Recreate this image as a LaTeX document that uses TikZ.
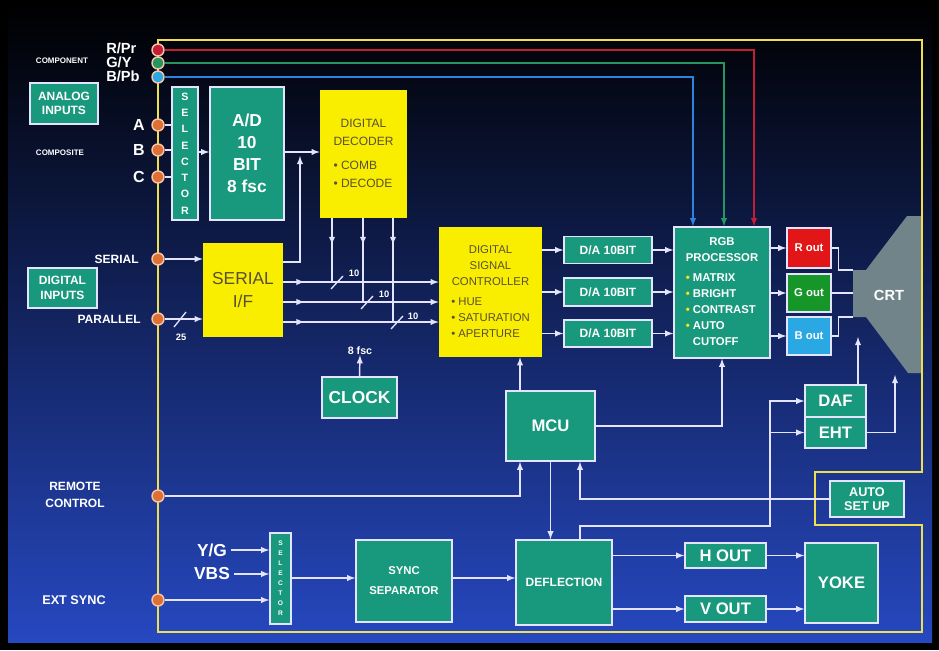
\documentclass[tikz,border=0pt]{standalone}
\usepackage{fontspec}
\setmainfont{Liberation Sans}
\usepackage{tikz}
\usetikzlibrary{arrows,positioning,calc,decorations.markings}
\definecolor{tealfill}{RGB}{24,152,124}
\definecolor{yellowfill}{RGB}{250,238,0}
\definecolor{ytext}{RGB}{88,80,50}
\definecolor{wirecol}{RGB}{228,228,255}
\definecolor{buscol}{RGB}{238,222,80}
\definecolor{jackcol}{RGB}{222,112,52}
\definecolor{jackrim}{RGB}{246,196,170}
\definecolor{redline}{RGB}{196,30,52}
\definecolor{greenline}{RGB}{36,150,96}
\definecolor{blueline}{RGB}{44,132,222}
\definecolor{redout}{RGB}{226,22,22}
\definecolor{greenout}{RGB}{22,150,40}
\definecolor{blueout}{RGB}{42,168,228}
\definecolor{crtgrey}{RGB}{112,132,138}
\definecolor{bgmid}{RGB}{8,12,112}
\definecolor{bgbot}{RGB}{38,72,192}
\newcommand{\fsz}[2]{\fontsize{#1}{#2}\selectfont}
\newcommand{\boxtitle}[1]{\multicolumn{1}{@{}c@{}}{#1}}

\begin{document}
\begin{tikzpicture}[x=0.75pt,y=-0.75pt,
  every node/.style={align=center,inner sep=0pt,text=white},
  wh/.style 2 args={minimum width=#1*0.75pt,minimum height=#2*0.75pt},
  tbox/.style={draw=wirecol,line width=1.1pt,fill=tealfill,font=\bfseries\fsz{9}{11}},
  ybox/.style={fill=yellowfill,text=ytext,font=\fsz{9}{13.5}},
  jack/.style={circle,draw=jackrim,line width=1.1pt,fill=jackcol,minimum size=12*0.75pt},
  lbl/.style={font=\bfseries\fsz{9}{12.5}},
  wire/.style={draw=wirecol,line width=1.1pt},
  arrow/.style={wire,-latex},
  bus/.style={draw=buscol,line width=1.9pt},
  slashmark/.style={wire,line width=1pt},
  midarrow/.style={postaction={decorate},decoration={markings,mark=at position #1 with {\arrow{latex}}}}]
  \useasboundingbox (0,0) rectangle (939,650);
  % background
  \fill[black] (0,0) rectangle (939,650);
  \shade[top color=black,middle color=bgmid,bottom color=bgbot] (8,4) rectangle (932,642);

  % crt
  \fill[crtgrey] (853,270) -- (866,270) -- (907,216) -- (922,216) -- (922,373) -- (908,373) -- (866,317) -- (853,317) -- cycle;
  \node[font=\bfseries\fsz{11}{12}] (crt) at (889,295) {CRT};
  \coordinate (crtr) at (853,270);
  \coordinate (crtb) at (853,317);
  \coordinate (crtbot) at (895,375);
  \coordinate (crtneck) at (858,337);

  % yellow bus
  \draw[bus] (158,40) -- (922,40) -- (922,472) -- (815,472) -- (815,525) -- (922,525) -- (922,632) -- (158,632) -- cycle;

  % inputs
  \node[jack,fill=redline] (rpr) at (158,50) {};
  \node[jack,fill=greenline] (gy) at (158,63) {};
  \node[jack,fill=blueout] (bpb) at (158,77) {};
  \node[jack] (ja) at (158,125) {};
  \node[jack] (jb) at (158,150) {};
  \node[jack] (jc) at (158,177) {};
  \node[jack] (jser) at (158,259) {};
  \node[jack] (jpar) at (158,319) {};
  \node[jack] (jrem) at (158,496) {};
  \node[jack] (jext) at (158,600) {};
  \node[anchor=west,font=\bfseries\fsz{11}{12}] (lrpr) at (106,48) {R/Pr};
  \node[anchor=west,font=\bfseries\fsz{11}{12}] (lgy) at (106,62) {G/Y};
  \node[anchor=west,font=\bfseries\fsz{11}{12}] (lbpb) at (106,76) {B/Pb};
  \node[font=\bfseries\fsz{6}{7}] (lcomp) at (62,61) {COMPONENT};
  \node[font=\bfseries\fsz{6}{7}] (lcvbs) at (60,153) {COMPOSITE};
  \node[font=\bfseries\fsz{12}{13}] (la) at (139,125) {A};
  \node[font=\bfseries\fsz{12}{13}] (lb) at (139,150) {B};
  \node[font=\bfseries\fsz{12}{13}] (lc) at (139,177) {C};
  \node[lbl,anchor=east] (lser) at (139,259) {SERIAL};
  \node[lbl,anchor=east] (lpar) at (141,319) {PARALLEL};
  \node[lbl] (lrem) at (75,495) {REMOTE\\CONTROL};
  \node[lbl,font=\bfseries\fsz{9.5}{12}] (lext) at (74,600) {EXT SYNC};
  \node[font=\bfseries\fsz{13}{14}] (lyg) at (212,550) {Y/G};
  \node[font=\bfseries\fsz{13}{14}] (lvbs) at (212,574) {VBS};
  \node[tbox,wh={68}{41}] (analog) at (64,103.5) {ANALOG\\INPUTS};
  \node[tbox,wh={69}{40}] (digin) at (62.5,288) {DIGITAL\\INPUTS};

  % front end
  \node[tbox,wh={26}{133},font=\bfseries\fsz{8}{12.2}] (sel) at (185,153.5) {S\\E\\L\\E\\C\\T\\O\\R};
  \node[tbox,wh={74}{133},font=\bfseries\fsz{13}{16.5}] (adc) at (247,153.5) {A/D\\10\\BIT\\8 fsc};
  \node[ybox,wh={87}{128}] (dec) at (363.5,154) {\begin{tabular}{@{}l@{}}\boxtitle{DIGITAL}\\\boxtitle{DECODER}\\[4pt]\textbullet\ COMB\\\textbullet\ DECODE\end{tabular}};
  \node[ybox,wh={80}{94},font=\fsz{13}{17}] (serif) at (243,290) {SERIAL\\I/F};
  \node[tbox,wh={75}{41},font=\bfseries\fsz{13}{14}] (clock) at (359.5,397.5) {CLOCK};
  \node[font=\bfseries\fsz{8}{9}] (lfsc) at (360,351) {8 fsc};
  \node[ybox,wh={103}{130},font=\fsz{8.5}{12}] (dsc) at (490.5,292) {\begin{tabular}{@{}l@{}}\boxtitle{DIGITAL}\\\boxtitle{SIGNAL}\\\boxtitle{CONTROLLER}\\[3pt]\textbullet\ HUE\\\textbullet\ SATURATION\\\textbullet\ APERTURE\end{tabular}};

  % video path
  \node[tbox,wh={88}{27}] (da1) at (608,250) {D/A 10BIT};
  \node[tbox,wh={88}{28}] (da2) at (608,292) {D/A 10BIT};
  \node[tbox,wh={88}{27}] (da3) at (608,333.5) {D/A 10BIT};
  \node[tbox,wh={96}{131},font=\bfseries\fsz{8.5}{12}] (rgb) at (722,292.5) {\begin{tabular}{@{}l@{}}\boxtitle{RGB}\\\boxtitle{PROCESSOR}\\[3pt]\textcolor{yellowfill}{\textbullet}\ MATRIX\\\textcolor{yellowfill}{\textbullet}\ BRIGHT\\\textcolor{yellowfill}{\textbullet}\ CONTRAST\\\textcolor{yellowfill}{\textbullet}\ AUTO\\\phantom{\textbullet\ }CUTOFF\end{tabular}};
  \node[tbox,fill=redout,wh={44}{40},font=\bfseries\fsz{8.5}{9}] (rout) at (809,248) {R out};
  \node[tbox,fill=greenout,wh={44}{38},font=\bfseries\fsz{8.5}{9}] (gout) at (809,293) {G out};
  \node[tbox,fill=blueout,wh={44}{38},font=\bfseries\fsz{8.5}{9}] (bout) at (809,336) {B out};
  \node[tbox,wh={61}{32},font=\bfseries\fsz{12.5}{13}] (daf) at (835.5,401) {DAF};
  \node[tbox,wh={61}{31},font=\bfseries\fsz{12.5}{13}] (eht) at (835.5,432.5) {EHT};
  \node[tbox,wh={74}{36},font=\bfseries\fsz{9.5}{11}] (auto) at (867,499) {AUTO\\SET UP};
  \node[tbox,wh={89}{70},font=\bfseries\fsz{12.5}{13}] (mcu) at (550.5,426) {MCU};

  % sync and deflection
  \node[tbox,wh={21}{91},font=\bfseries\fsz{5}{7.5}] (sel2) at (280.5,578.5) {S\\E\\L\\E\\C\\T\\O\\R};
  \node[tbox,wh={96}{82},font=\bfseries\fsz{8.5}{15}] (sync) at (404,581) {SYNC\\SEPARATOR};
  \node[tbox,wh={96}{85}] (defl) at (564,582.5) {DEFLECTION};
  \node[tbox,wh={81}{25},font=\bfseries\fsz{12.5}{13}] (hout) at (725.5,555.5) {H OUT};
  \node[tbox,wh={81}{26},font=\bfseries\fsz{12.5}{13}] (vout) at (725.5,609) {V OUT};
  \node[tbox,wh={73}{80},font=\bfseries\fsz{12.5}{13}] (yoke) at (841.5,583) {YOKE};
  \coordinate (merge) at (300,156);
  \coordinate (dsplit) at (770,526);

  % connectors
  \draw[arrow,draw=redline] (rpr) -| (rgb.north -| 754,0);
  \draw[arrow,draw=greenline] (gy) -| (rgb.north -| 724,0);
  \draw[arrow,draw=blueline] (bpb) -| (rgb.north -| 693,0);
  \draw[wire] (ja) -- (ja -| sel.west);
  \draw[wire] (jb) -- (jb -| sel.west);
  \draw[wire] (jc) -- (jc -| sel.west);
  \draw[arrow] (sel.east |- 0,152) -- (adc.west |- 0,152);
  \draw[arrow] (adc.east |- 0,152) -- (dec.west |- 0,152);
  \draw[arrow] (serif.east |- 0,262) -| (merge);
  \draw[arrow] (jser) -- (jser -| serif.west);
  \draw[arrow] (jpar) -- (jpar -| serif.west);
  \draw[slashmark] (174,327) -- (186,312);
  \node[font=\bfseries\fsz{7}{8}] (n25) at (181,337) {25};
  \draw[arrow,midarrow=16pt] (serif.east |- 0,282) -- (dsc.west |- 0,282);
  \draw[arrow,midarrow=16pt] (serif.east |- 0,302) -- (dsc.west |- 0,302);
  \draw[arrow,midarrow=16pt] (serif.east |- 0,322) -- (dsc.west |- 0,322);
  \draw[wire,midarrow=20pt] (dec.south -| 332,0) -- (332,282);
  \draw[wire,midarrow=20pt] (dec.south -| 363,0) -- (363,302);
  \draw[wire,midarrow=20pt] (dec.south -| 393,0) -- (393,322);
  \draw[slashmark] (331,289) -- (343,276);
  \draw[slashmark] (361,309) -- (373,296);
  \draw[slashmark] (391,329) -- (403,316);
  \node[font=\bfseries\fsz{7}{8}] (n10a) at (354,273) {10};
  \node[font=\bfseries\fsz{7}{8}] (n10b) at (384,294) {10};
  \node[font=\bfseries\fsz{7}{8}] (n10c) at (413,316) {10};
  \draw[arrow] (clock.north) -- (lfsc.south);
  \draw[arrow] (dsc.east |- da1) -- (da1.west);
  \draw[arrow] (dsc.east |- da2) -- (da2.west);
  \draw[arrow] (dsc.east |- da3) -- (da3.west);
  \draw[arrow] (da1.east) -- (da1.east -| rgb.west);
  \draw[arrow] (da2.east) -- (da2.east -| rgb.west);
  \draw[arrow] (da3.east) -- (da3.east -| rgb.west);
  \draw[arrow] (rgb.east |- rout) -- (rout.west);
  \draw[arrow] (rgb.east |- gout) -- (gout.west);
  \draw[arrow] (rgb.east |- bout) -- (bout.west);
  \draw[wire] (rout.east) -- ++(7,0) |- (crtr);
  \draw[wire] (gout.east) -- (gout.east -| crtr);
  \draw[wire] (bout.east) -- ++(7,0) |- (crtb);
  \draw[arrow] (mcu.north -| 520,0) -- (dsc.south -| 520,0);
  \draw[arrow] (mcu.east) -| (rgb.south);
  \draw[arrow] (jrem) -| (mcu.south -| 520,0);
  \draw[arrow] (auto.west) -| (mcu.south -| 580,0);
  \draw[arrow] (mcu.south) -- (mcu.south |- defl.north);
  \draw[arrow] (defl.north -| 580,0) |- (dsplit) |- (daf.west);
  \draw[arrow] (dsplit |- eht.west) -- (eht.west);
  \draw[arrow] (daf.north -| crtneck) -- (crtneck);
  \draw[arrow] (eht.east) -| (crtbot);
  \draw[arrow] ([xshift=3pt]lyg.east) -- (lyg.east -| sel2.west);
  \draw[arrow] ([xshift=3pt]lvbs.east) -- (lvbs.east -| sel2.west);
  \draw[arrow] (jext) -- (jext -| sel2.west);
  \draw[arrow] (sel2.east |- 0,578) -- (sync.west |- 0,578);
  \draw[arrow] (sync.east |- 0,578) -- (defl.west |- 0,578);
  \draw[arrow] (defl.east |- hout) -- (hout.west);
  \draw[arrow] (defl.east |- vout) -- (vout.west);
  \draw[arrow] (hout.east) -- (hout.east -| yoke.west);
  \draw[arrow] (vout.east) -- (vout.east -| yoke.west);
\end{tikzpicture}
\end{document}
